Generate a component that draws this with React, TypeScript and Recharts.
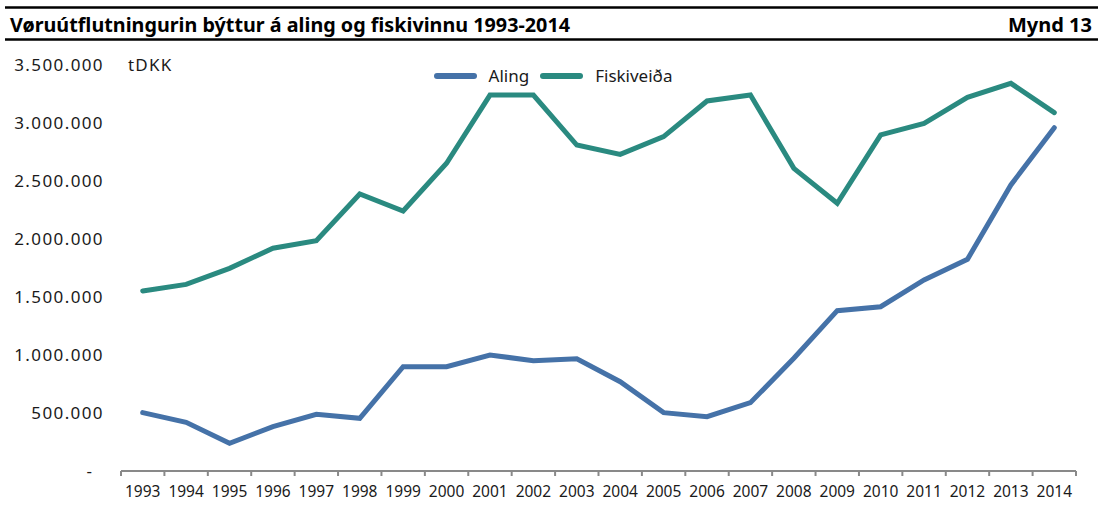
import React from 'react'
import { LineChart, Line, XAxis, YAxis, Legend } from 'recharts'

const years = ['1993', '1994', '1995', '1996', '1997', '1998', '1999', '2000', '2001', '2002', '2003', '2004', '2005', '2006', '2007', '2008', '2009', '2010', '2011', '2012', '2013', '2014']
const aling = [503000, 420000, 239000, 382000, 489000, 454000, 899000, 899000, 1000000, 951000, 968000, 770000, 503000, 468000, 589000, 972000, 1382000, 1416000, 1647000, 1825000, 2466000, 2960000]
const fiskiveida = [1552000, 1609000, 1747000, 1920000, 1985000, 2388000, 2241000, 2653000, 3241000, 3241000, 2810000, 2730000, 2882000, 3190000, 3241000, 2609000, 2308000, 2897000, 2997000, 3222000, 3342000, 3089000]
const yTicks = [0, 500000, 1000000, 1500000, 2000000, 2500000, 3000000, 3500000]

const data = years.map((year, i) => ({ year, Aling: aling[i], 'Fiskiveiða': fiskiveida[i] }))

const W = 1098
const H = 513
const M = { top: 65, right: 22, bottom: 12, left: 0 }
const Y_AXIS_W = 121
const X_AXIS_H = 30
const PLOT_BOTTOM = H - M.bottom - X_AXIS_H
const BAND = (W - M.right - Y_AXIS_W) / years.length
const FONT = '"Noto Sans", sans-serif'

const fmt = (v: number) => (v === 0 ? '-' : v.toLocaleString('de-DE'))

function YTick({ y, payload }: any) {
  const zero = payload.value === 0
  return (
    <text x={zero ? 92 : 104} y={y} dy={6} textAnchor="end" fontSize={17} letterSpacing={zero ? 0 : 1.4} fill="#1a1a1a" fontFamily={FONT}>
      {fmt(payload.value)}
    </text>
  )
}

function XTick({ x, payload, index }: any) {
  const left = x - BAND / 2
  return (
    <g>
      <line x1={left} x2={left} y1={PLOT_BOTTOM} y2={PLOT_BOTTOM + 5} stroke="#898989" strokeWidth={2} />
      {index === years.length - 1 && (
        <line x1={x + BAND / 2} x2={x + BAND / 2} y1={PLOT_BOTTOM} y2={PLOT_BOTTOM + 5} stroke="#898989" strokeWidth={2} />
      )}
      <text x={x} y={PLOT_BOTTOM + 26} textAnchor="middle" fontSize={15.5} fill="#1a1a1a" fontFamily={FONT}>
        {payload.value}
      </text>
    </g>
  )
}

function LegendContent({ payload }: any) {
  return (
    <div style={{ display: 'flex', justifyContent: 'center', alignItems: 'center', fontFamily: FONT, fontSize: 17, color: '#1a1a1a', lineHeight: '24px' }}>
      {(payload || []).map((p: any, i: number) => (
        <div key={p.value} style={{ display: 'flex', alignItems: 'center', marginLeft: i ? 11 : 0 }}>
          <span style={{ display: 'inline-block', width: 43, height: 6, borderRadius: 3, background: p.color, marginRight: 12 }} />
          <span>{p.value}</span>
        </div>
      ))}
    </div>
  )
}

export default function App() {
  return (
    <div style={{ position: 'absolute', top: 0, left: 0, width: W, height: H, background: '#fff' }}>
      <svg width={W} height={H} style={{ position: 'absolute', top: 0, left: 0 }}>
        <line x1={5} x2={W} y1={7.5} y2={7.5} stroke="#000" strokeWidth={2.5} />
        <line x1={5} x2={W} y1={39.5} y2={39.5} stroke="#000" strokeWidth={2.5} />
        <text x={10} y={32} fontSize={20} fontWeight={700} fontFamily={FONT} textLength={560} lengthAdjust="spacingAndGlyphs" fill="#000">
          Vøruútflutningurin býttur á aling og fiskivinnu 1993-2014
        </text>
        <text x={1092} y={32} fontSize={20} fontWeight={700} fontFamily={FONT} textAnchor="end" fill="#000">
          Mynd 13
        </text>
        <text x={128} y={71} fontSize={17} letterSpacing={1.2} fontFamily={FONT} fill="#1a1a1a">
          tDKK
        </text>
      </svg>
      <div style={{ position: 'absolute', top: 0, left: 0 }}>
        <LineChart width={W} height={H} data={data} margin={M}>
          <XAxis dataKey="year" height={X_AXIS_H} tickLine={false} axisLine={{ stroke: '#898989', strokeWidth: 2 }} tick={<XTick />} interval={0} padding={{ left: BAND / 2, right: BAND / 2 }} />
          <YAxis width={Y_AXIS_W} domain={[0, 3500000]} ticks={yTicks} axisLine={false} tickLine={false} tick={<YTick />} interval={0} />
          <Legend layout="horizontal" verticalAlign="middle" align="center" content={<LegendContent />} wrapperStyle={{ top: 64, left: 4, width: W, height: 24 }} />
          <Line type="linear" dataKey="Aling" stroke="#4572a8" strokeWidth={5} dot={false} strokeLinecap="round" isAnimationActive={false} />
          <Line type="linear" dataKey="Fiskiveiða" stroke="#2a8a80" strokeWidth={5} dot={false} strokeLinecap="round" isAnimationActive={false} />
        </LineChart>
      </div>
    </div>
  )
}
